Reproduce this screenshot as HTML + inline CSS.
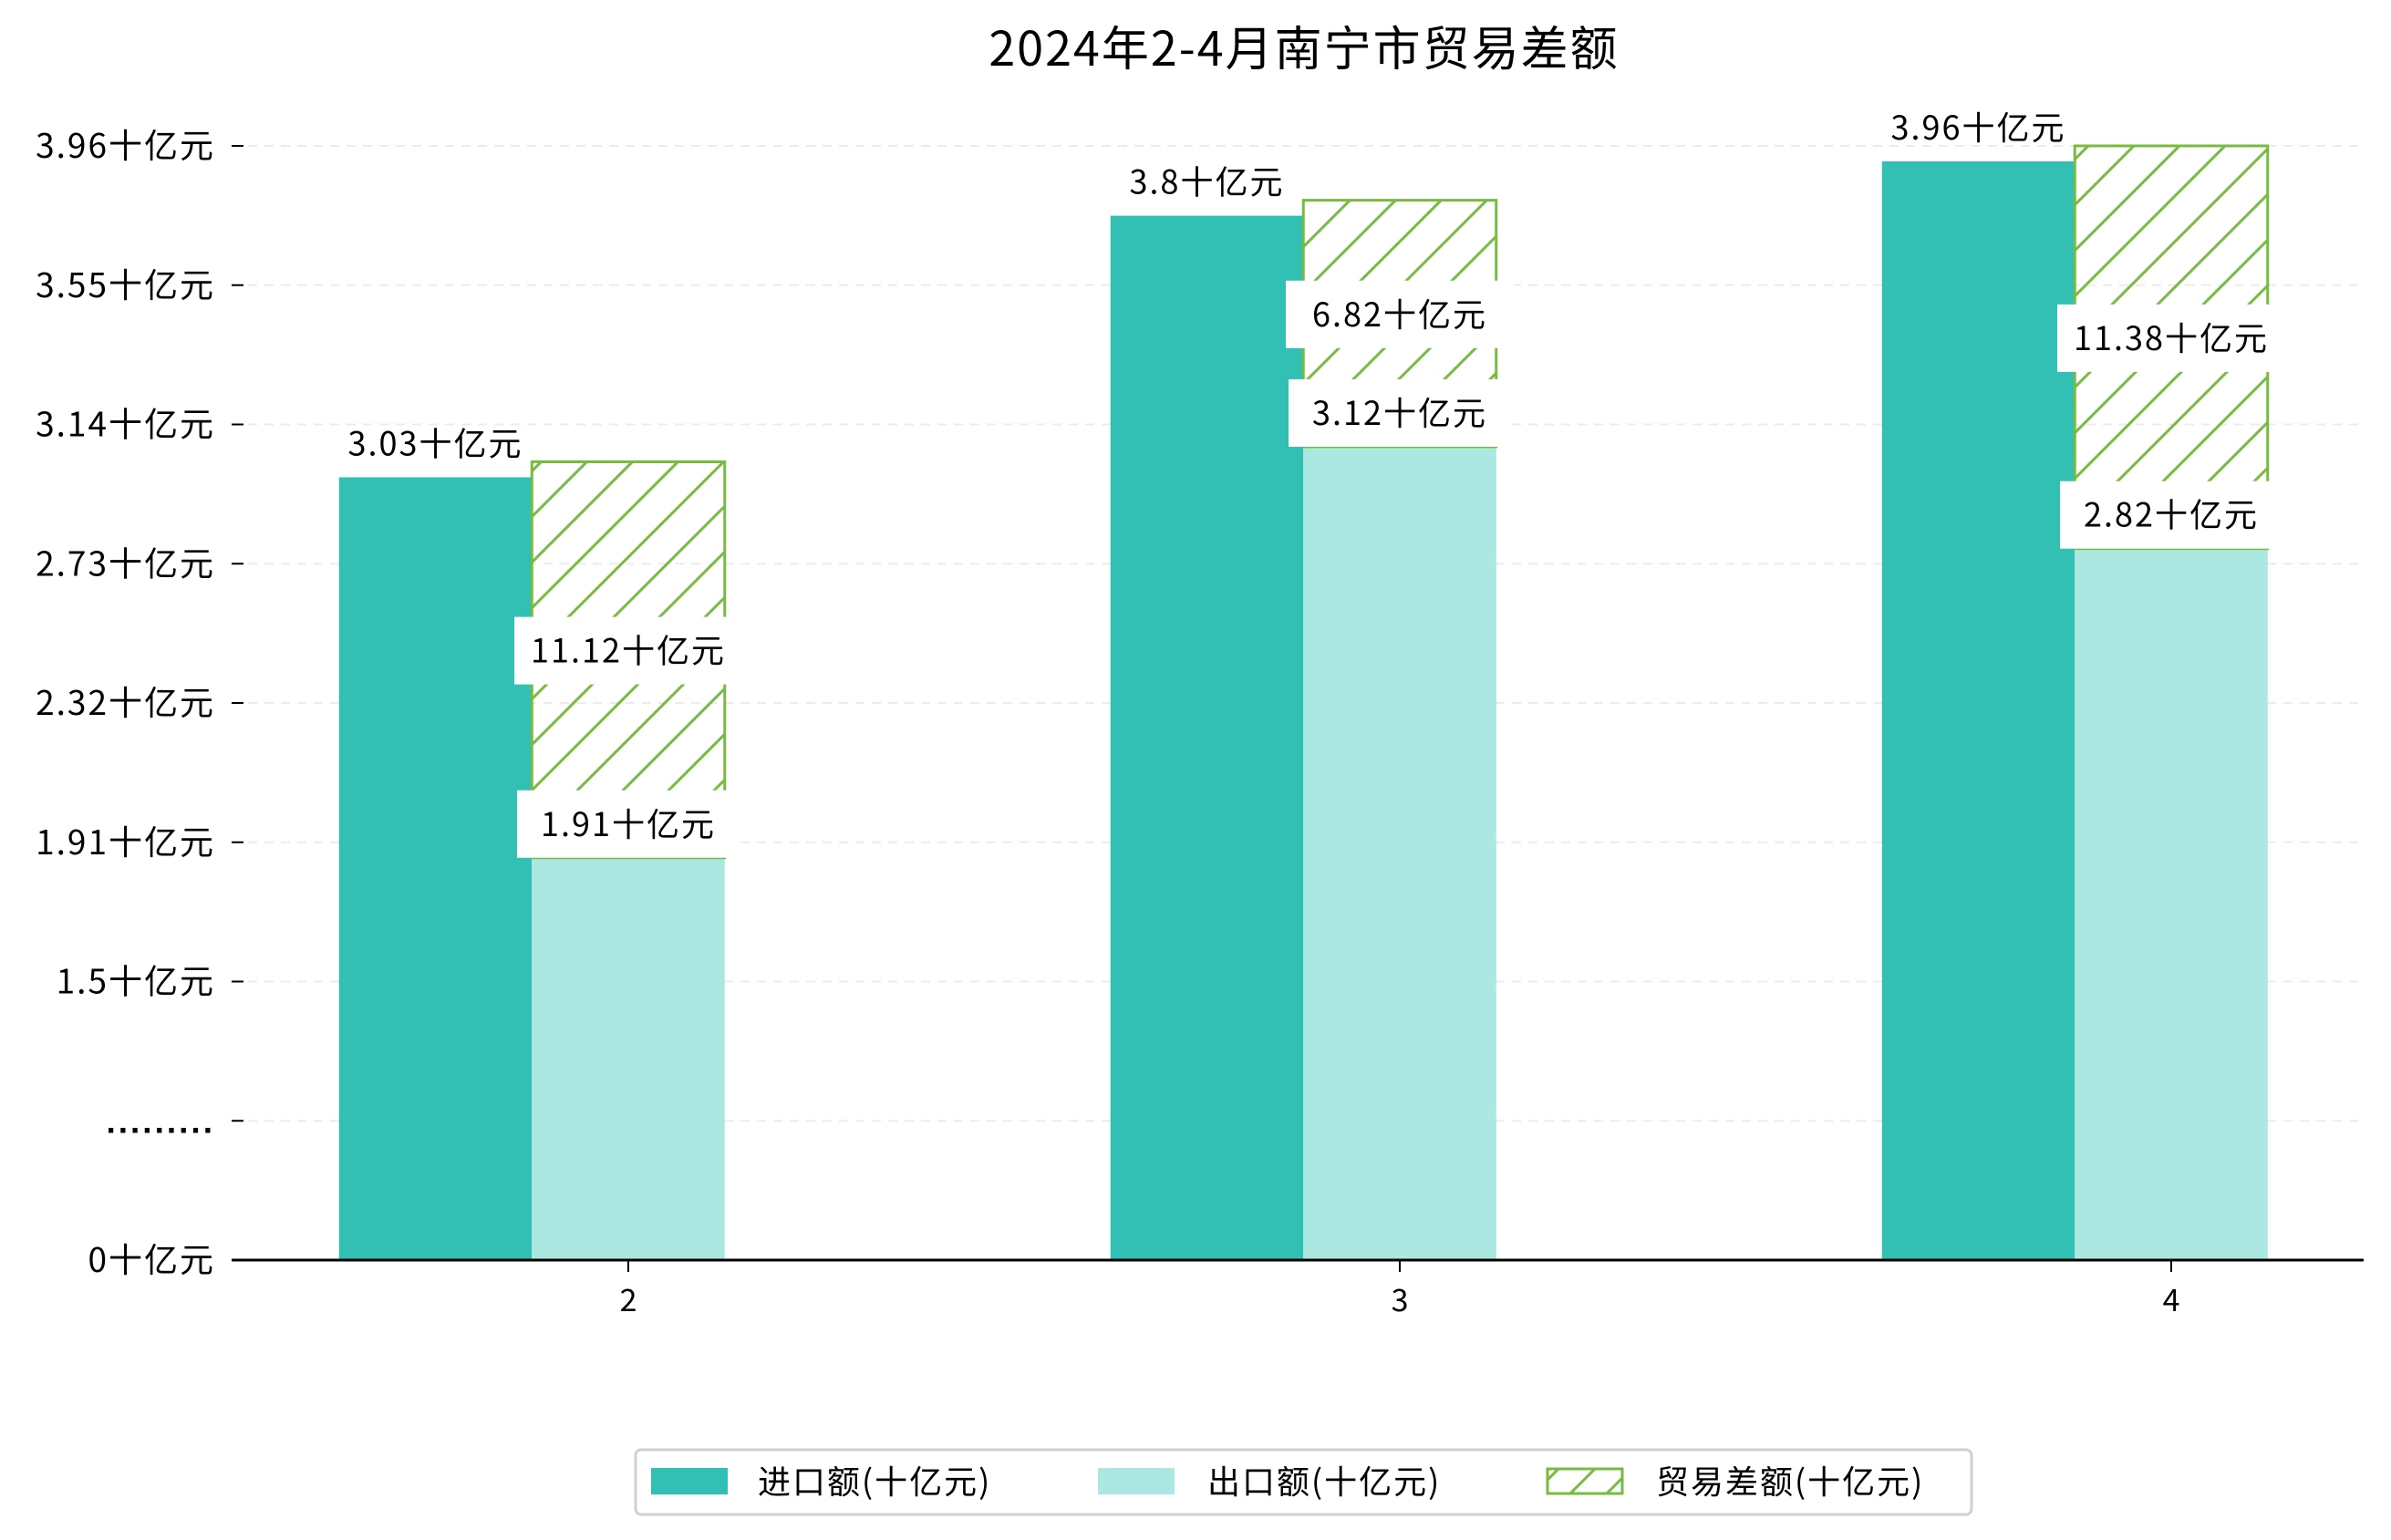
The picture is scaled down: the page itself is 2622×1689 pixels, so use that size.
<!DOCTYPE html>
<html><head><meta charset="utf-8"><style>
html,body{margin:0;padding:0;background:#fff;}
svg{display:block;font-family:"Noto Sans CJK SC","Liberation Sans",sans-serif;}
</style></head><body>
<svg id="chart" width="2622" height="1689" viewBox="0 0 2622 1689" xmlns="http://www.w3.org/2000/svg">
<defs>
<pattern id="hatch" patternUnits="userSpaceOnUse" width="50" height="50">
<path d="M-10,60 L60,-10 M-10,10 L10,-10 M40,60 L60,40" stroke="#77bb41" stroke-width="3"/>
</pattern>
<pattern id="hatchL" patternUnits="userSpaceOnUse" width="40" height="40">
<path d="M-10,50 L50,-10" stroke="#77bb41" stroke-width="3"/>
</pattern>
</defs>
<text x="1430" y="72" font-size="52" letter-spacing="2" text-anchor="middle" fill="#000">2024年2-4月南宁市贸易差额</text>
<g id="grid"></g><g id="bars"></g><g id="labels"></g>
<g>
<rect x="697" y="1590" width="1465" height="71" rx="6" fill="#fff" stroke="#d0d0d0" stroke-width="3"/>
<rect x="714" y="1610" width="84" height="29" fill="#31c0b3"/>
<text x="831" y="1638" font-size="36" letter-spacing="2">进口额(十亿元)</text>
<rect x="1204" y="1610" width="84" height="29" fill="#abe8e2"/>
<text x="1324" y="1638" font-size="36" letter-spacing="2">出口额(十亿元)</text>
<rect x="1697" y="1611" width="82" height="27" fill="url(#hatchL)" stroke="#77bb41" stroke-width="3"/>
<text x="1816" y="1638" font-size="36" letter-spacing="2">贸易差额(十亿元)</text>
</g>
</svg>
<script>
const months = ["2","3","4"];
const importVals = [3.03, 3.8, 3.96];
const exportVals = [1.91, 3.12, 2.82];
const balanceVals = [11.12, 6.82, 11.38];
const tickLabels = ["0十亿元",".........","1.5十亿元","1.91十亿元","2.32十亿元","2.73十亿元","3.14十亿元","3.55十亿元","3.96十亿元"];

const NS="http://www.w3.org/2000/svg";
const X0=254, X1=2592, BASE=1382, STEP=152.75;
const BW=211.5, OFF=17;
function xC(i){return 689+i*846;}
function yV(v){return (BASE-2*STEP)-(v-1.5)*(STEP/0.41);}
function mk(tag,attrs,parent){const e=document.createElementNS(NS,tag);for(const k in attrs)e.setAttribute(k,attrs[k]);parent.appendChild(e);return e;}
const grid=document.getElementById('grid'),bars=document.getElementById('bars'),labels=document.getElementById('labels'),svg=document.getElementById('chart');

tickLabels.forEach((t,i)=>{
  const y=BASE-i*STEP;
  if(i>0){const g=mk('line',{x1:X0,x2:X1,y1:y,y2:y,stroke:'#ececec','stroke-width':2,'stroke-dasharray':'10,8'},grid);
  
  }
  const tk=mk('line',{x1:X0,x2:X0+13,y1:y,y2:y,stroke:'#000','stroke-width':2},grid);
  
  
  const isDots = t.indexOf('十')<0;
  const tx=mk('text',{x:236,y:y+13,'font-size':37,'letter-spacing':isDots?3:2,'text-anchor':'end',fill:'#000','font-weight':isDots?'bold':'normal','font-family':isDots?'Liberation Sans, sans-serif':'Noto Sans CJK SC, Liberation Sans, sans-serif'},grid);
  
  
  tx.textContent=t;
});

months.forEach((m,i)=>{
  const c=xC(i);
  const iy=yV(importVals[i])+OFF, ey=yV(exportVals[i])+OFF, hy=yV(importVals[i]);
  const b1=mk('rect',{x:c-1.5*BW,y:iy,width:BW,height:BASE-iy,fill:'#31c0b3'},bars);
  
  
  const b2=mk('rect',{x:c-0.5*BW,y:ey,width:BW,height:BASE-ey,fill:'#abe8e2'},bars);
  
  
  const h=mk('rect',{x:c-0.5*BW,y:hy,width:BW,height:Math.max(0,ey-hy),fill:'url(#hatch)',stroke:'#77bb41','stroke-width':3},bars);
  
  
  const xt=mk('line',{x1:c,x2:c,y1:BASE,y2:BASE+13,stroke:'#000','stroke-width':2},grid);
  
  
  const xl=mk('text',{x:c,y:BASE+56,'font-size':34,'text-anchor':'middle'},grid);
  
  
  xl.textContent=m;
  const il=mk('text',{x:c-BW,y:hy-7,'font-size':36,'letter-spacing':2,'text-anchor':'middle'},labels);
  
  
  il.textContent=importVals[i]+'十亿元';
  const ecy=ey-37;
  const eb=mk('rect',{x:c-122,y:ecy-37,width:244,height:74,fill:'#fff'},labels);
  
  
  const el=mk('text',{x:c,y:ecy+13,'font-size':36,'letter-spacing':2,'text-anchor':'middle'},labels);
  
  
  el.textContent=exportVals[i]+'十亿元';
  const bcy=(hy+ey)/2-10;
  const bb=mk('rect',{x:c-125,y:bcy-37,width:250,height:74,fill:'#fff'},labels);
  
  
  const bl=mk('text',{x:c,y:bcy+13,'font-size':36,'letter-spacing':2,'text-anchor':'middle'},labels);
  
  
  bl.textContent=balanceVals[i]+'十亿元';
});
const ax=mk('line',{x1:X0,x2:X1,y1:BASE,y2:BASE,stroke:'#000','stroke-width':3},svg);


</script>
</body></html>
